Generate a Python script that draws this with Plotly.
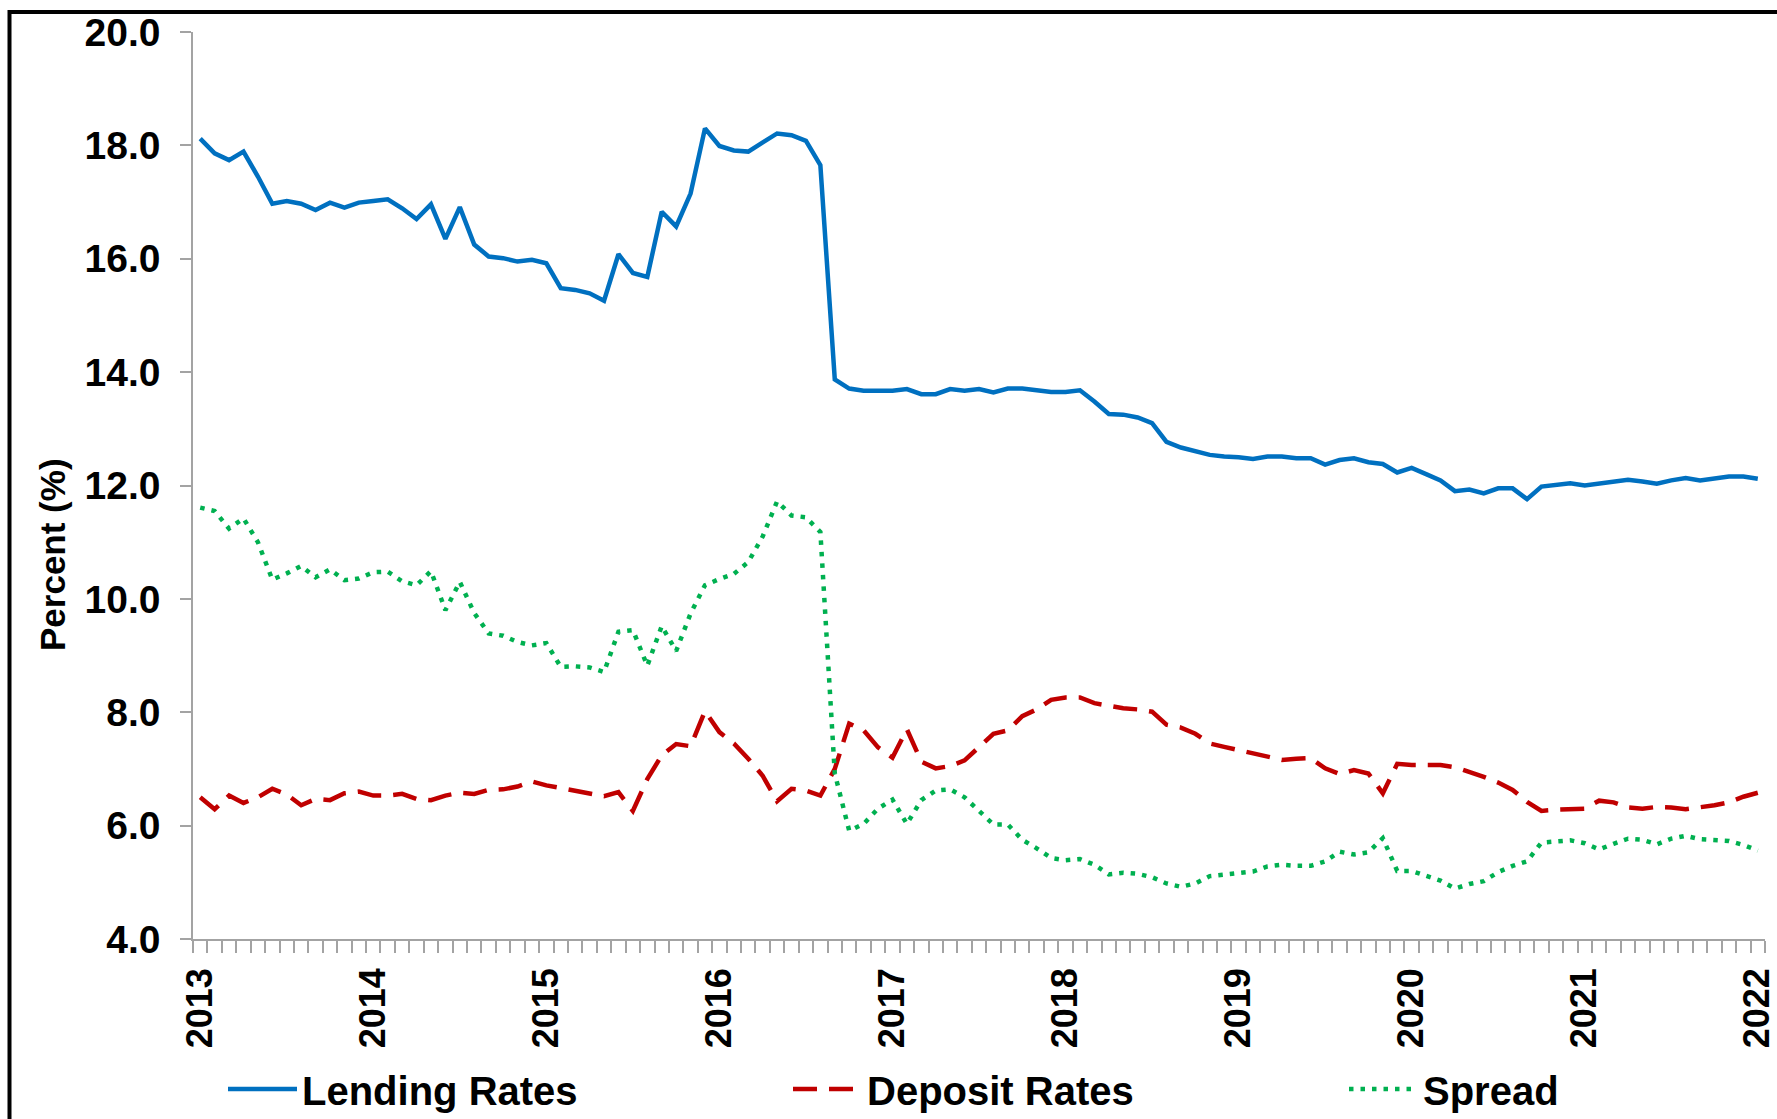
import plotly.graph_objects as go

# ---------------- data (monthly, Jan 2013 - Jan 2022) ----------------
lending = [
    18.12, 17.86, 17.74, 17.89, 17.45, 16.97, 17.02, 16.97, 16.86, 16.99, 16.90, 16.99,
    17.02, 17.05, 16.89, 16.70, 16.96, 16.35, 16.91, 16.25, 16.04, 16.01, 15.95, 15.98,
    15.92, 15.48, 15.45, 15.39, 15.26, 16.08, 15.75, 15.68, 16.83, 16.57, 17.15, 18.30,
    17.99, 17.91, 17.89, 18.05, 18.21, 18.18, 18.08, 17.65, 13.87, 13.71, 13.67, 13.67,
    13.67, 13.70, 13.61, 13.61, 13.70, 13.67, 13.70, 13.64, 13.71, 13.71, 13.67, 13.65,
    13.65, 13.68, 13.48, 13.26, 13.25, 13.20, 13.10, 12.77, 12.67, 12.60, 12.54, 12.51,
    12.50, 12.47, 12.51, 12.51, 12.48, 12.48, 12.37, 12.45, 12.48, 12.41, 12.38, 12.23,
    12.31, 12.20, 12.09, 11.90, 11.93, 11.86, 11.95, 11.95, 11.76, 11.98, 12.01, 12.04,
    12.00, 12.03, 12.07, 12.10, 12.07, 12.03, 12.09, 12.13, 12.09, 12.13, 12.16, 12.16,
    12.12,
]
deposit = [
    6.50, 6.29, 6.53, 6.40, 6.50, 6.65, 6.55, 6.36, 6.47, 6.45, 6.57, 6.60,
    6.53, 6.53, 6.56, 6.47, 6.45, 6.53, 6.58, 6.56, 6.63, 6.64, 6.69, 6.78,
    6.71, 6.66, 6.61, 6.56, 6.52, 6.59, 6.26, 6.82, 7.24, 7.44, 7.40, 8.02,
    7.65, 7.45, 7.18, 6.88, 6.43, 6.65, 6.62, 6.53, 7.00, 7.80, 7.68, 7.38,
    7.20, 7.70, 7.13, 7.01, 7.05, 7.15, 7.39, 7.62, 7.68, 7.93, 8.05, 8.22,
    8.26, 8.26, 8.16, 8.11, 8.07, 8.05, 8.01, 7.78, 7.73, 7.62, 7.45, 7.39,
    7.33, 7.29, 7.22, 7.16, 7.18, 7.19, 7.01, 6.91, 6.98, 6.92, 6.57, 7.09,
    7.07, 7.07, 7.07, 7.03, 6.95, 6.86, 6.76, 6.63, 6.42, 6.26, 6.28, 6.29,
    6.30, 6.44, 6.41, 6.32, 6.30, 6.33, 6.32, 6.29, 6.32, 6.36, 6.41, 6.51,
    6.58,
]
spread = [
    11.61, 11.55, 11.24, 11.42, 11.00, 10.34, 10.45, 10.58, 10.38, 10.52, 10.33, 10.36,
    10.47, 10.48, 10.31, 10.24, 10.49, 9.80, 10.30, 9.75, 9.39, 9.35, 9.24, 9.18,
    9.22, 8.80, 8.81, 8.79, 8.71, 9.42, 9.45, 8.82, 9.52, 9.08, 9.74, 10.24,
    10.35, 10.44, 10.65, 11.10, 11.72, 11.47, 11.44, 11.18, 6.92, 5.91, 6.03, 6.30,
    6.46, 6.03, 6.45, 6.62, 6.64, 6.50, 6.26, 6.02, 6.02, 5.75, 5.60, 5.43,
    5.39, 5.41, 5.31, 5.14, 5.17, 5.15, 5.09, 4.98, 4.92, 4.98, 5.11, 5.13,
    5.17, 5.19, 5.28, 5.31, 5.29, 5.29, 5.37, 5.54, 5.49, 5.53, 5.78, 5.20,
    5.20, 5.12, 5.03, 4.89, 4.97, 5.02, 5.18, 5.29, 5.37, 5.70, 5.72, 5.74,
    5.69, 5.58, 5.68, 5.77, 5.75, 5.67, 5.77, 5.82, 5.76, 5.75, 5.73, 5.66,
    5.56,
]
year_labels = ["2013", "2014", "2015", "2016", "2017", "2018", "2019", "2020", "2021", "2022"]
series_names = ["Lending Rates", "Deposit Rates", "Spread"]

# ---------------- layout constants ----------------
W, H = 1777, 1119
ML, MR, MT, MB = 193, 12, 32, 180
PW, PH = W - ML - MR, H - MT - MB
FONT = "Liberation Sans, Arial, sans-serif"
GRAY = "#a3a3a3"


def px_x(p):
    return (p - ML) / PW


def px_y(p):
    return (H - MB - p) / PH


n = len(lending)
x = list(range(n))

fig = go.Figure()
fig.add_trace(go.Scatter(x=x, y=lending, name=series_names[0], mode="lines", legend="legend",
                         line=dict(color="#0070C0", width=4.5)))
fig.add_trace(go.Scatter(x=x, y=deposit, name=series_names[1], mode="lines", legend="legend2",
                         line=dict(color="#C00000", width=4.5, dash="24px,12px")))
fig.add_trace(go.Scatter(x=x, y=spread, name=series_names[2], mode="lines", legend="legend3",
                         line=dict(color="#00B050", width=4.5, dash="4.5px,7px")))


def legend_at(px_left):
    return dict(
        orientation="h", x=px_x(px_left), y=px_y(1089), xanchor="left", yanchor="middle",
        font=dict(family=FONT, size=40, color="#000000", weight="bold"),
        itemwidth=69, bgcolor="rgba(0,0,0,0)", borderwidth=0,
    )


fig.update_layout(
    template="none",
    width=W, height=H,
    margin=dict(l=ML, r=MR, t=MT, b=MB, pad=0, autoexpand=False),
    paper_bgcolor="white", plot_bgcolor="white",
    font=dict(family=FONT, color="#000000"),
    showlegend=True,
    legend=legend_at(223),
    legend2=legend_at(788),
    legend3=legend_at(1344),
    xaxis=dict(
        range=[-0.5, n - 0.5],
        tickmode="array",
        tickvals=[12 * k for k in range(len(year_labels))],
        ticktext=year_labels,
        ticks="",
        tickangle=-90,
        tickfont=dict(family=FONT, size=36, color="#000000", weight="bold"),
        ticklabelstandoff=13,
        ticklabelshift=0,
        ticklabeloverflow="allow",
        automargin=False,
        showline=True, linecolor=GRAY, linewidth=1.5,
        showgrid=False, zeroline=False,
        minor=dict(ticks="outside", tick0=-0.5, dtick=1, ticklen=12,
                   tickwidth=1.5, tickcolor=GRAY, showgrid=False),
    ),
    yaxis=dict(
        range=[4, 20], tick0=4, dtick=2, tickformat=".1f",
        ticks="outside", ticklen=11, tickwidth=1.5, tickcolor=GRAY,
        tickfont=dict(family=FONT, size=39, color="#000000", weight="bold"),
        ticklabelstandoff=12,
        automargin=False,
        showline=True, linecolor=GRAY, linewidth=1.5,
        showgrid=False, zeroline=False,
    ),
    annotations=[dict(
        text="Percent (%)", textangle=-90, showarrow=False,
        xref="paper", yref="paper", x=px_x(52), y=px_y(555),
        xanchor="center", yanchor="middle",
        font=dict(family=FONT, size=35, color="#000000", weight="bold"),
    )],
    shapes=[
        dict(type="line", xref="paper", yref="paper",
             x0=px_x(9.5), x1=px_x(W + 5), y0=px_y(12), y1=px_y(12),
             line=dict(color="#000000", width=4)),
        dict(type="line", xref="paper", yref="paper",
             x0=px_x(9.5), x1=px_x(9.5), y0=px_y(10), y1=px_y(H + 5),
             line=dict(color="#000000", width=4)),
    ],
)

fig.write_html("out.html",
               config={"displayModeBar": False},
               post_script="document.body.style.margin='0px';document.body.style.overflow='hidden';")
